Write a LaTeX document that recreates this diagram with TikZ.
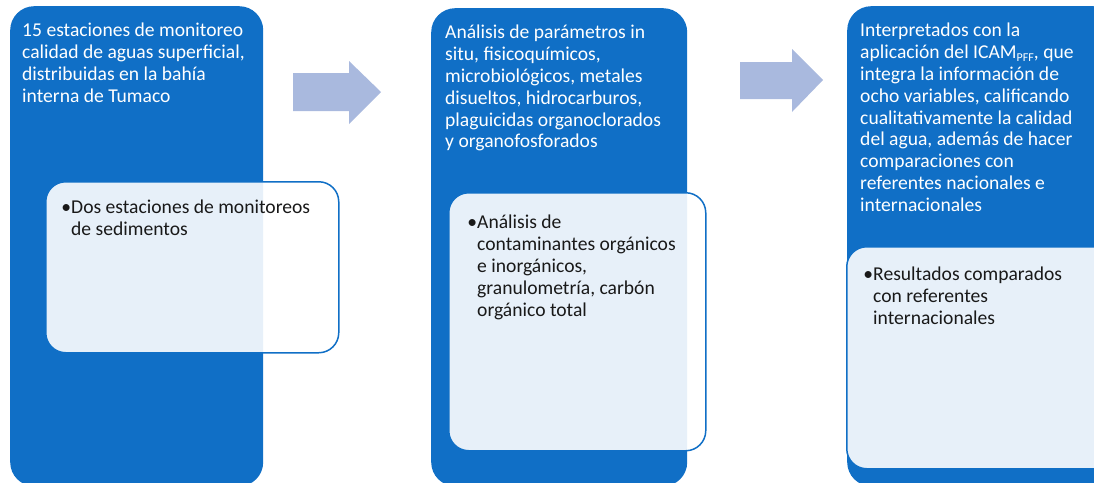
\documentclass[tikz,border=0pt]{standalone}
\usepackage{fontspec}
\setmainfont{Carlito}
\usetikzlibrary{positioning}
\definecolor{boxblue}{RGB}{16,111,198}
\definecolor{arrowblue}{RGB}{169,185,222}
\definecolor{textdark}{RGB}{25,25,25}

\begin{document}
\begin{tikzpicture}[
  x=1pt, y=-1pt,
  col/.style={anchor=north west, inner sep=0pt, fill=boxblue, rounded corners=24pt},
  sub/.style={anchor=north west, inner sep=0pt, draw=boxblue, line width=1.5pt,
    fill=white, fill opacity=0.9, rounded corners=20pt},
  head/.style={anchor=north west, inner sep=0pt, align=left, text=white,
    font=\fontsize{19.6}{21.8}\selectfont},
  item/.style={anchor=north west, inner sep=0pt, align=left, text=textdark,
    font=\fontsize{19.6}{21.8}\selectfont},
  blockarrow/.style={fill=arrowblue}
]
\clip (0,0) rectangle (1094,482);
% columns
\node[col, minimum width=253pt, minimum height=480pt] (col1) at (10,6) {};
\node[col, minimum width=256pt, minimum height=478pt] (col2) at (431,8) {};
\node[col, minimum width=270pt, minimum height=480pt] (col3) at (847,6) {};
\node[head] (head1) at ([shift={(12,17)}]col1.north west) {15 estaciones de monitoreo\\
calidad de aguas superficial,\\
distribuidas en la bahía\\
interna de Tumaco};
\node[head] (head2) at ([shift={(14,17)}]col2.north west) {Análisis de parámetros in\\
situ, fisicoquímicos,\\
microbiológicos, metales\\
disueltos, hidrocarburos,\\
plaguicidas organoclorados\\
y organofosforados};
\node[head] (head3) at ([shift={(13,17)}]col3.north west) {Interpretados con la\\
aplicación del ICAM\raisebox{-0.35ex}{\fontsize{12}{12}\selectfont PFF}, que\\
integra la información de\\
ocho variables, calificando\\
cualitativamente la calidad\\
del agua, además de hacer\\
comparaciones con\\
referentes nacionales e\\
internacionales};
% boxes on top
\node[sub, minimum width=293pt, minimum height=171pt] (sub1) at (45,181) {};
\node[sub, minimum width=257pt, minimum height=258pt] (sub2) at (448,192) {};
\node[sub, minimum width=270pt, minimum height=222pt] (sub3) at (846,246) {};
\node[item] (item1) at ([shift={(26,19)}]sub1.north west) {\llap{\textbullet}Dos estaciones de monitoreos\\
de sedimentos};
\node[item] (item2) at ([shift={(29,23)}]sub2.north west) {\llap{\textbullet}Análisis de\\
contaminantes orgánicos\\
e inorgánicos,\\
granulometría, carbón\\
orgánico total};
\node[item] (item3) at ([shift={(27,21)}]sub3.north west) {\llap{\textbullet}Resultados comparados\\
con referentes\\
internacionales};
% arrows
\fill[blockarrow] (293,73) -- (349,73) -- (349,61) -- (381,92) -- (349,124) -- (349,111) -- (293,111) -- cycle;
\fill[blockarrow] (740,62) -- (792,62) -- (792,49) -- (823,80) -- (792,112) -- (792,99) -- (740,99) -- cycle;
\end{tikzpicture}
\end{document}
